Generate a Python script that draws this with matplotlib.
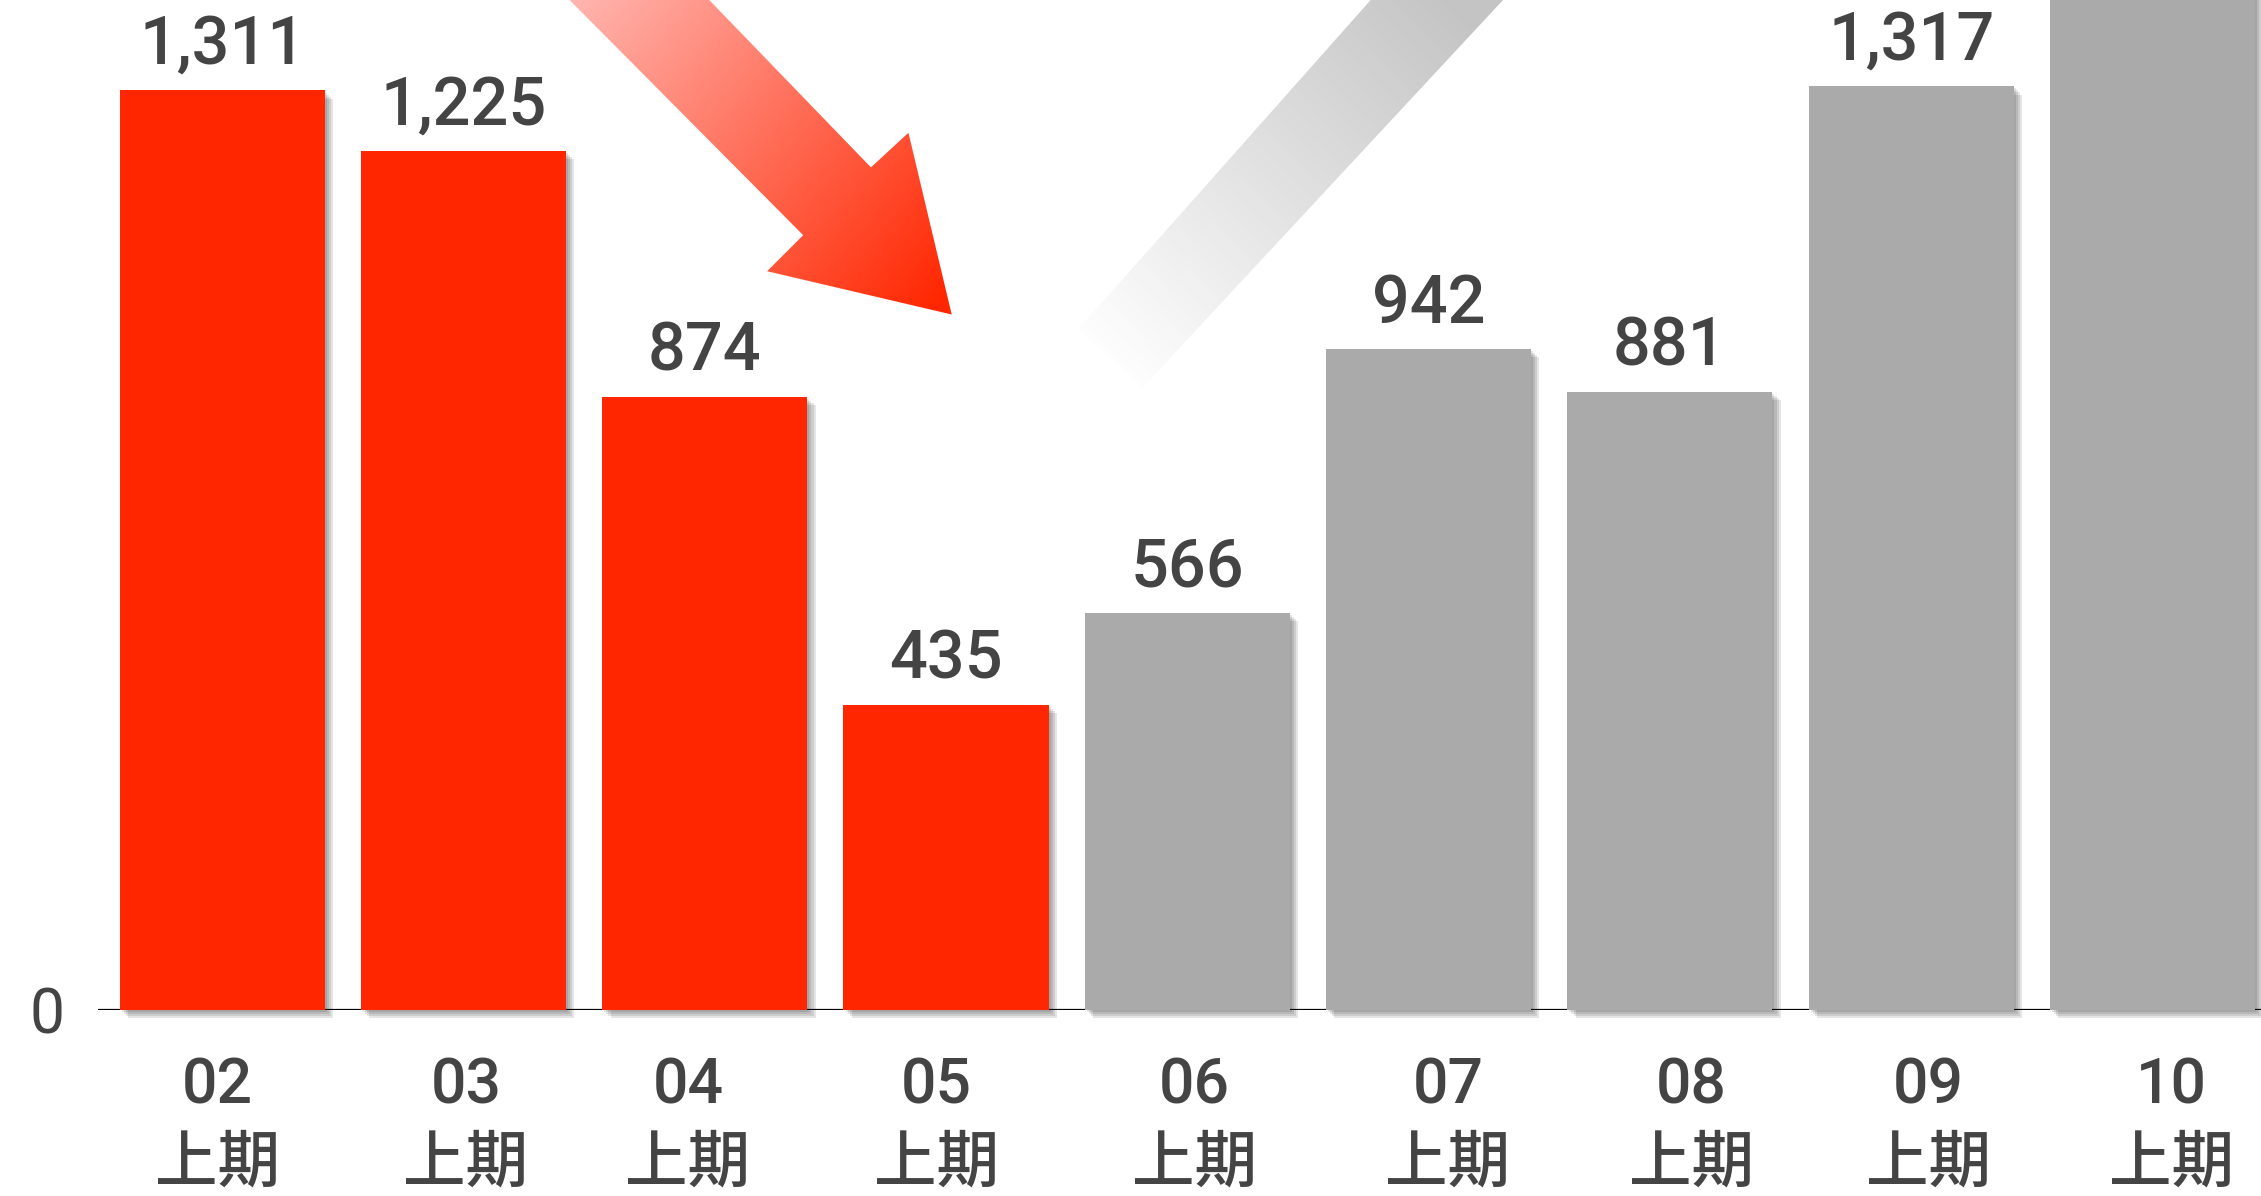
import numpy as np
import matplotlib
matplotlib.use('Agg')
import matplotlib.pyplot as plt
import matplotlib.patheffects as pe
from matplotlib.patches import Polygon
from matplotlib.colors import LinearSegmentedColormap

plt.rcParams['font.family'] = ['Roboto', 'Noto Sans CJK JP', 'DejaVu Sans']

# data
periods = ['02', '03', '04', '05', '06', '07', '08', '09', '10']
half = '上期'
sales = [1311, 1225, 874, 435, 566, 942, 881, 1317, 1650]   # last bar runs off the top
labelled = [True, True, True, True, True, True, True, True, False]
n_down = 4   # first four periods drawn in red
tick_nudge = [-0.02, 0.01, -0.07, -0.04, 0.03, 0.08, 0.09, 0.07, 0.08]

red = '#ff2600'
grey = '#aaaaaa'
txt = '#444444'

fig = plt.figure(figsize=(22.61, 11.96), dpi=100)

# decoration layer (coords in a 1568 x 829 frame, y downwards)
W, H = 1568, 829
deco = fig.add_axes([0, 0, 1, 1])
deco.set_xlim(0, W)
deco.set_ylim(H, 0)
deco.axis('off')

def gradient_poly(axo, pts, c0, c1, p0, p1):
    xs = np.linspace(0, W, 800)
    ys = np.linspace(0, H, 430)
    X, Y = np.meshgrid(xs, ys)
    d = np.array(p1, float) - np.array(p0, float)
    t = ((X - p0[0]) * d[0] + (Y - p0[1]) * d[1]) / (d @ d)
    t = np.clip(t, 0, 1)
    cmap = LinearSegmentedColormap.from_list('g', [c0, c1])
    poly = Polygon(pts, closed=True, facecolor='none', edgecolor='none')
    axo.add_patch(poly)
    im = axo.imshow(t, cmap=cmap, vmin=0, vmax=1, extent=(0, W, H, 0),
                    origin='upper', interpolation='bilinear', aspect='auto')
    im.set_clip_path(poly)

# falling red arrow
red_arrow = [(390, -5), (557, 163), (532, 188), (660, 218), (630, 92), (604, 116), (487, -5)]
gradient_poly(deco, red_arrow, '#ffb4ae', '#ff2600', (400, 0), (650, 215))
# rising grey band
grey_band = [(955, -5), (1047, -5), (793, 268), (748, 228)]
gradient_poly(deco, grey_band, '#c4c4c4', '#ffffff', (1010, 0), (765, 255))
deco.set_xlim(0, W)
deco.set_ylim(H, 0)

# main chart
ax = fig.add_axes([0.0434, 0.1559, 0.9566, 0.8441])
ax.patch.set_alpha(0)
x = np.arange(len(sales))
colors = [red if i < n_down else grey for i in range(len(sales))]

shadow = [pe.SimplePatchShadow(offset=(o, -o), shadow_rgbFace='k', alpha=0.1)
          for o in (1.5, 3.0, 4.5, 6.0)] + [pe.Normal()]
bars = ax.bar(x, sales, width=0.85, color=colors, zorder=2, clip_on=False)
for b in bars:
    b.set_path_effects(shadow)

ax.axhline(0, color='black', lw=1.6, zorder=1)

for xi, v, show in zip(x, sales, labelled):
    if show:
        ax.annotate(f'{v:,}', (xi, v), xytext=(0, 19), textcoords='offset points',
                    ha='center', va='baseline', fontsize=48, color=txt,
                    fontweight='medium')

ax.set_xlim(-0.514, 8.45)
ax.set_ylim(0, 1440)
ax.set_yticks([0])
ax.set_yticklabels(['0'], fontsize=45, color=txt)
ax.set_xticks(x + np.array(tick_nudge))
ax.set_xticklabels([f'{p}\n{half}' for p in periods], fontsize=45, color=txt,
                   linespacing=1.38, fontweight='medium')
ax.tick_params(axis='both', length=0)
ax.tick_params(axis='y', pad=24)
ax.tick_params(axis='x', pad=34)
for s in ax.spines.values():
    s.set_visible(False)

fig.savefig('out.png', dpi=100)
